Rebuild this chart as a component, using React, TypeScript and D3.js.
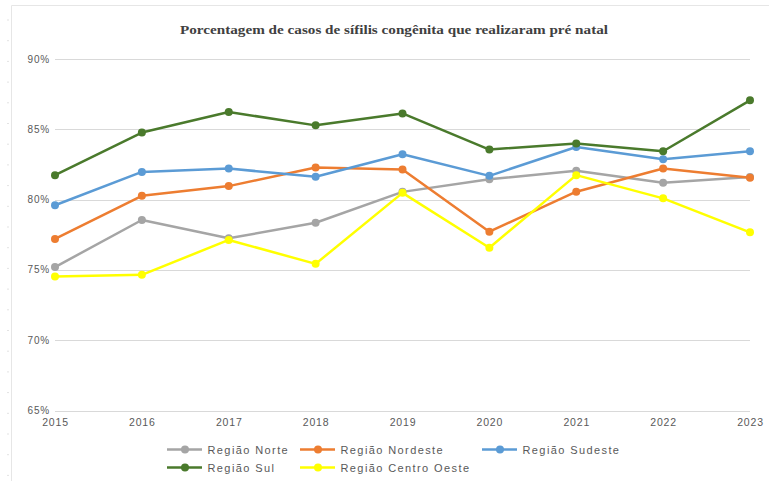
import React from "react";
import * as d3 from "d3";

const years = ["2015", "2016", "2017", "2018", "2019", "2020", "2021", "2022", "2023"];
const norte = [75.2, 78.55, 77.25, 78.35, 80.55, 81.45, 82.05, 81.2, 81.6];
const nordeste = [77.2, 80.27, 80.96, 82.28, 82.14, 77.72, 80.56, 82.21, 81.55];
const sudeste = [79.6, 81.97, 82.21, 81.62, 83.23, 81.69, 83.74, 82.87, 83.44];
const sul = [81.74, 84.77, 86.23, 85.28, 86.13, 83.56, 83.99, 83.44, 87.06];
const centroOeste = [74.53, 74.65, 77.13, 75.43, 80.48, 76.58, 81.74, 80.09, 77.67];
const yTicks = [65, 70, 75, 80, 85, 90];
const seriesNames = ["Região Norte", "Região Nordeste", "Região Sudeste", "Região Sul", "Região Centro Oeste"];
const seriesColors = ["#A5A5A5", "#ED7D31", "#5B9BD5", "#4A7A2C", "#FFFF00"];
const title = "Porcentagem de casos de sífilis congênita que realizaram pré natal";

const seriesValues = [norte, nordeste, sudeste, sul, centroOeste];

export default function App() {
  const W = 769;
  const H = 481;
  const x = d3.scalePoint<string>().domain(years).range([55, 750]);
  const y = d3.scaleLinear().domain([65, 90]).range([410.5, 59]);
  const line = d3
    .line<number>()
    .x((_, i) => x(years[i]) as number)
    .y((d) => y(d));

  const axisFont = "'Liberation Sans', Arial, sans-serif";
  const textColor = "#595959";

  // legend layout
  const legendItems = [
    { idx: 0, x: 167, y: 449.5 },
    { idx: 1, x: 300, y: 449.5 },
    { idx: 2, x: 482, y: 449.5 },
    { idx: 3, x: 167, y: 467.5 },
    { idx: 4, x: 300, y: 467.5 },
  ];

  return (
    <svg
      width={W}
      height={H}
      viewBox={`0 0 ${W} ${H}`}
      style={{ position: "absolute", left: 0, top: 0, background: "#fff" }}
    >
      <rect x={0} y={0} width={W} height={H} fill="#fff" />
      {/* chart frame */}
      <line x1={11.5} y1={5.5} x2={W} y2={5.5} stroke="#e6e6e6" strokeWidth={1} />
      <line x1={11.5} y1={5.5} x2={11.5} y2={H} stroke="#e6e6e6" strokeWidth={1} />
      {d3.range(0, 23).map((i) => (
        <line key={"d" + i} x1={7} x2={9} y1={20 + i * 20.7} y2={20 + i * 20.7} stroke="#e3e3e3" strokeWidth={1} />
      ))}

      {/* title */}
      <text
        x={394}
        y={34}
        textAnchor="middle"
        fontFamily="'Liberation Serif', 'Times New Roman', serif"
        fontWeight="bold"
        fontSize={13.5}
        fill="#404040"
        textLength={428}
        lengthAdjust="spacingAndGlyphs"
      >
        {title}
      </text>

      {/* gridlines */}
      {yTicks.map((t) => (
        <g key={t}>
          <line x1={55} x2={750} y1={Math.round(y(t)) + 0.5} y2={Math.round(y(t)) + 0.5} stroke="#d9d9d9" strokeWidth={1} />
          <text
            x={50}
            y={y(t) + 3.5}
            textAnchor="end"
            fontFamily={axisFont}
            fontSize={10}
            letterSpacing={0.8}
            fill={textColor}
          >
            {t + "%"}
          </text>
        </g>
      ))}

      {/* x labels */}
      {years.map((yr) => (
        <text
          key={yr}
          x={(x(yr) as number) + 0.5}
          y={426}
          textAnchor="middle"
          fontFamily={axisFont}
          fontSize={10.5}
          letterSpacing={0.8}
          fill={textColor}
        >
          {yr}
        </text>
      ))}

      {/* series */}
      {seriesValues.map((vals, si) => (
        <g key={si}>
          <path d={line(vals) || ""} fill="none" stroke={seriesColors[si]} strokeWidth={2.5} strokeLinejoin="round" strokeLinecap="round" />
          {vals.map((v, i) => (
            <circle key={i} cx={x(years[i]) as number} cy={y(v)} r={4} fill={seriesColors[si]} />
          ))}
        </g>
      ))}

      {/* legend */}
      {legendItems.map((it) => (
        <g key={it.idx}>
          <line x1={it.x} x2={it.x + 35} y1={it.y} y2={it.y} stroke={seriesColors[it.idx]} strokeWidth={2.5} />
          <circle cx={it.x + 18} cy={it.y} r={4} fill={seriesColors[it.idx]} />
          <text
            x={it.x + 40.5}
            y={it.y + 4}
            fontFamily={axisFont}
            fontSize={11}
            letterSpacing={1.4}
            fill={textColor}
          >
            {seriesNames[it.idx]}
          </text>
        </g>
      ))}
    </svg>
  );
}
